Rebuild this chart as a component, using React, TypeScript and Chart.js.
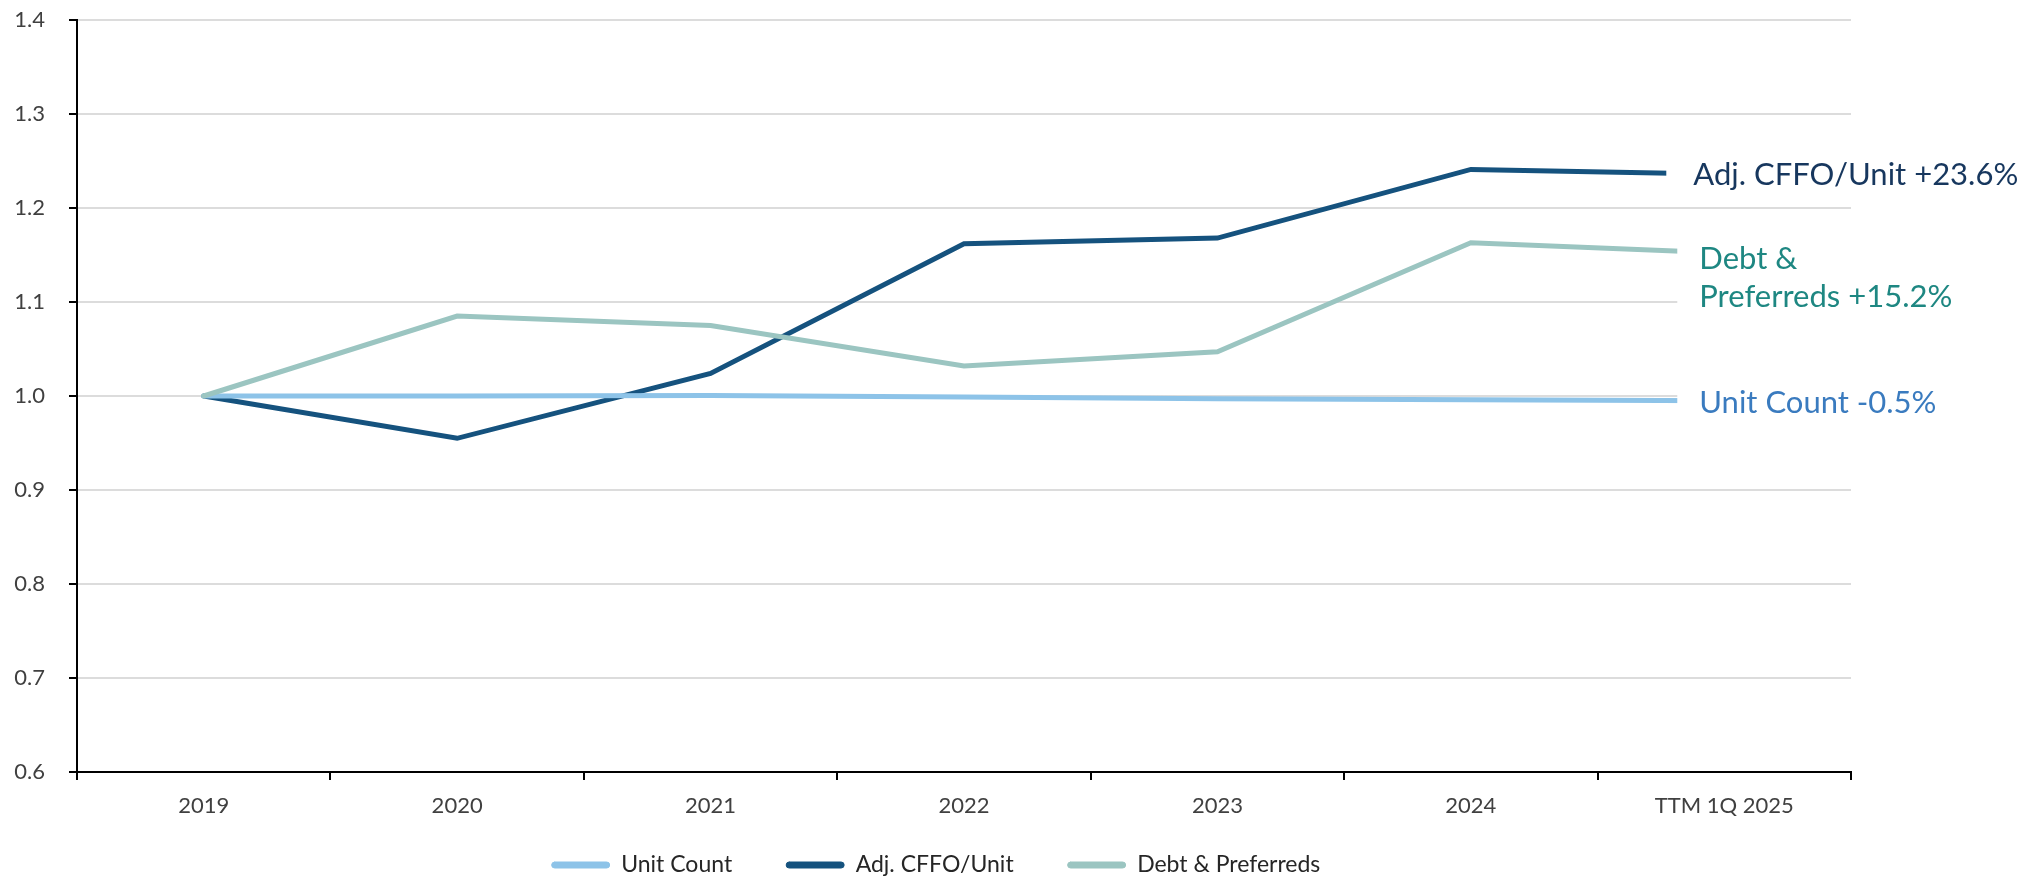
import { useEffect, useRef } from "react";
import { Chart, registerables } from "chart.js";

Chart.register(...registerables);

// Indexed growth since 2019 (2019 = 1.0)
const periods = ["2019", "2020", "2021", "2022", "2023", "2024", "TTM 1Q 2025"];
const unitCount = [1.0, 1.0, 1.0005, 0.999, 0.997, 0.996, 0.995];
const adjCffoPerUnit = [1.0, 0.955, 1.024, 1.162, 1.168, 1.241, 1.236];
const debtAndPreferreds = [1.0, 1.085, 1.075, 1.032, 1.047, 1.163, 1.152];

const seriesNames = ["Unit Count", "Adj. CFFO/Unit", "Debt & Preferreds"];
const lineColors = ["#8DC3E8", "#15527E", "#9BC5C1"];
const endLabelColors = ["#3A7BBF", "#17375E", "#1E8782"];

const yMin = 0.6;
const yMax = 1.4;
const yStep = 0.1;

const FONT = "Lato, 'Open Sans', sans-serif";

const pctChange = (values: number[]) => {
  const v = (values[values.length - 1] - 1) * 100;
  return `${v >= 0 ? "+" : ""}${v.toFixed(1)}%`;
};

// Text placed to the right of each line's last point, on a white plate
const endLabelSpecs = [
  {
    dataset: 1,
    lines: [`${seriesNames[1]} ${pctChange(adjCffoPerUnit)}`],
    plateLeft: -58, plateTop: -25, plateBottom: 25, textX: -31, baseline: 11,
  },
  {
    dataset: 2,
    lines: ["Debt &", `Preferreds ${pctChange(debtAndPreferreds)}`],
    plateLeft: -47, plateTop: -20, plateBottom: 72, textX: -25, baseline: 16,
  },
  {
    dataset: 0,
    lines: [`${seriesNames[0]} ${pctChange(unitCount)}`],
    plateLeft: -47, plateTop: -22, plateBottom: 20, textX: -25, baseline: 12,
  },
];

const endLabelsPlugin = {
  id: "endLabels",
  afterDatasetsDraw(chart: any) {
    const ctx = chart.ctx as CanvasRenderingContext2D;
    ctx.save();
    for (const spec of endLabelSpecs) {
      const meta = chart.getDatasetMeta(spec.dataset);
      const pt = meta.data[meta.data.length - 1];
      if (!pt) continue;
      const { x, y } = pt;
      ctx.fillStyle = "#ffffff";
      ctx.fillRect(x + spec.plateLeft, y + spec.plateTop, chart.width - (x + spec.plateLeft), spec.plateBottom - spec.plateTop);
      ctx.fillStyle = endLabelColors[spec.dataset];
      ctx.font = `31px ${FONT}`;
      ctx.textAlign = "left";
      ctx.textBaseline = "alphabetic";
      spec.lines.forEach((line, i) => {
        ctx.fillText(line, x + spec.textX, y + spec.baseline + i * 38);
      });
    }
    ctx.restore();
  },
};

const layoutTweaks = {
  id: "layoutTweaks",
  afterLayout(chart: any) {
    // let the category labels extend below the axis box without being clipped
    const xs = chart.scales.x;
    xs.bottom = xs.top + 60;
    xs.height = 60;
    // nudge the legend row to the right
    const lg = chart.legend;
    if (lg) {
      lg.left += 21;
    }
  },
};

export default function App() {
  const canvasRef = useRef<HTMLCanvasElement | null>(null);

  useEffect(() => {
    document.body.style.margin = "0";
    const canvas = canvasRef.current;
    if (!canvas) return;

    const seriesValues = [unitCount, adjCffoPerUnit, debtAndPreferreds];
    const drawOrder = [1, 2, 0];

    const chart = new Chart(canvas, {
      type: "line",
      data: {
        labels: periods,
        datasets: seriesValues.map((values, i) => ({
          label: seriesNames[i],
          data: values,
          borderColor: lineColors[i],
          backgroundColor: lineColors[i],
          borderWidth: 5,
          borderCapStyle: "round",
          pointRadius: 0,
          pointHoverRadius: 0,
          tension: 0,
          fill: false,
          order: drawOrder[i],
        })),
      },
      options: {
        animation: false,
        responsive: false,
        devicePixelRatio: 1,
        layout: { padding: { left: 0, right: 172, top: 20, bottom: -8.5 } },
        plugins: {
          tooltip: { enabled: false },
          legend: {
            position: "bottom",
            labels: {
              boxWidth: 58,
              boxHeight: 6,
              padding: 54,
              color: "#262626",
              font: { family: FONT, size: 23 },
              useBorderRadius: true,
              sort: (a: any, b: any) => a.datasetIndex - b.datasetIndex,
              generateLabels: (c: any) => {
                const items = (Chart.defaults.plugins.legend.labels as any).generateLabels(c);
                return items.map((it: any) => ({ ...it, lineWidth: 1, borderRadius: 3 }));
              },
            },
          },
        },
        scales: {
          x: {
            offset: true,
            afterFit: (scale: any) => {
              scale.height = 27.5;
            },
            grid: {
              display: true,
              offset: true,
              drawOnChartArea: false,
              drawTicks: true,
              tickLength: 8,
              color: "#000000",
              lineWidth: 2,
            },
            border: { display: true, color: "#000000", width: 2 },
            ticks: {
              color: "#404040",
              font: { family: FONT, size: 22 },
              padding: 13,
              maxRotation: 0,
              autoSkip: false,
            },
          },
          y: {
            min: yMin,
            max: yMax,
            afterFit: (scale: any) => {
              scale.width = 77;
              scale.paddingTop = 0;
              scale.paddingBottom = 0;
            },
            grid: {
              color: "#DCDCDC",
              lineWidth: 2,
              tickLength: 8,
              tickColor: "#000000",
              tickWidth: 2,
            },
            border: { display: true, color: "#000000", width: 2 },
            ticks: {
              stepSize: yStep,
              color: "#404040",
              font: { family: FONT, size: 22 },
              padding: 24,
              callback: (v: any) => Number(v).toFixed(1),
            },
          },
        },
      },
      plugins: [layoutTweaks, endLabelsPlugin],
    } as any);

    return () => chart.destroy();
  }, []);

  return (
    <div style={{ width: 2023, height: 878 }}>
      <canvas ref={canvasRef} width={2023} height={878} style={{ display: "block" }} />
    </div>
  );
}
